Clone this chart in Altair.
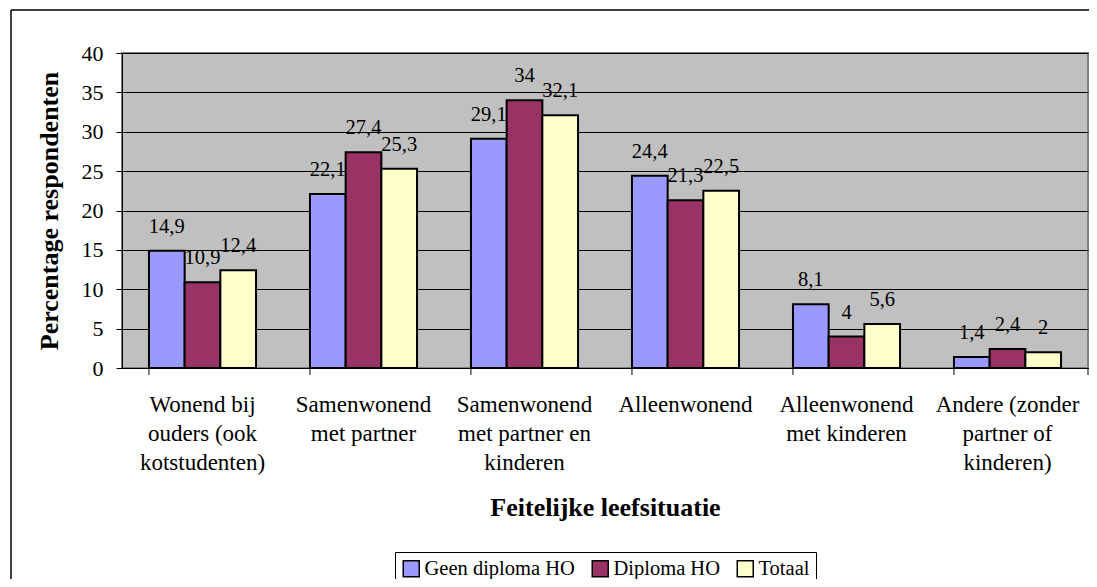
import altair as alt
import pandas as pd

categories = [
    "Wonend bij|ouders (ook|kotstudenten)",
    "Samenwonend|met partner",
    "Samenwonend|met partner en|kinderen",
    "Alleenwonend",
    "Alleenwonend|met kinderen",
    "Andere (zonder|partner of|kinderen)",
]
series = ["Geen diploma HO", "Diploma HO", "Totaal"]
geen_diploma = [14.9, 22.1, 29.1, 24.4, 8.1, 1.4]
diploma = [10.9, 27.4, 34, 21.3, 4, 2.4]
totaal = [12.4, 25.3, 32.1, 22.5, 5.6, 2]
colors = ["#9999FF", "#993366", "#FFFFCC"]
y_ticks = [0, 5, 10, 15, 20, 25, 30, 35, 40]

rows = []
for s, vals in zip(series, [geen_diploma, diploma, totaal]):
    for c, v in zip(categories, vals):
        rows.append({"cat": c, "series": s, "value": v,
                     "label": f"{v:g}".replace(".", ",")})
df = pd.DataFrame(rows)

W, H = 966, 315
FONT = "Liberation Serif"

x_enc = alt.X(
    "cat:N", sort=categories,
    scale=alt.Scale(paddingInner=0.335, paddingOuter=0.1675),
    axis=alt.Axis(
        title="Feitelijke leefsituatie", titleFont=FONT, titleFontSize=26,
        titleFontWeight="bold", titleColor="black",
        titleBaseline="alphabetic", titleY=147,
        labelExpr="split(datum.label, '|')", labelFont=FONT, labelFontSize=23,
        labelColor="black", labelLineHeight=29, labelPadding=25,
        labelAngle=0, ticks=False, domain=True, domainColor="black",
        domainWidth=1, grid=False,
    ),
)
xoff = alt.XOffset("series:N", sort=series,
                   scale=alt.Scale(paddingInner=0, paddingOuter=0))
y_enc = alt.Y(
    "value:Q", scale=alt.Scale(domain=[0, 40], nice=False),
    axis=alt.Axis(
        title="Percentage respondenten", titleFont=FONT, titleFontSize=26,
        titleFontWeight="bold", titleColor="black",
        titleBaseline="alphabetic", titleX=-65,
        values=y_ticks, labelFont=FONT, labelFontSize=22, labelColor="black",
        labelPadding=13, tickColor="black", tickSize=6, domainColor="black",
        gridColor="black", gridWidth=1, gridOpacity=1,
    ),
)

bars = alt.Chart(df).mark_bar(stroke="black", strokeWidth=2).encode(
    x=x_enc, xOffset=xoff, y=y_enc,
    color=alt.Color(
        "series:N", sort=series,
        scale=alt.Scale(domain=series, range=colors),
        legend=alt.Legend(
            title=None, orient="none", direction="horizontal",
            legendX=273, legendY=499, labelFont=FONT, labelFontSize=20.5,
            labelColor="black", symbolType="square", symbolSize=256,
            symbolStrokeColor="black", symbolStrokeWidth=1.5,
            symbolOpacity=1, labelOffset=3, columnPadding=14,
            strokeColor="black", padding=6, fillColor="white",
        ),
    ),
)

labels = alt.Chart(df).mark_text(
    baseline="alphabetic", dy=-18, font=FONT, fontSize=20.5, color="black"
).encode(x=x_enc, xOffset=xoff, y=y_enc, text="label:N")

tick_df = pd.DataFrame({"cat": categories})
xticks = alt.Chart(tick_df).mark_rule(color="black", strokeWidth=1).encode(
    x=alt.X("cat:N", sort=categories, bandPosition=0),
    y=alt.value(H), y2=alt.value(H + 7),
)
end_tick = alt.Chart(tick_df.head(1)).mark_rule(color="black", strokeWidth=1).encode(
    x=alt.value(W), y=alt.value(H), y2=alt.value(H + 7),
)

border_top = alt.Chart(tick_df.head(1)).mark_rule(color="black", strokeWidth=1.5).encode(
    x=alt.value(-111), x2=alt.value(990), y=alt.value(-43),
)
border_left = alt.Chart(tick_df.head(1)).mark_rule(color="black", strokeWidth=1.5).encode(
    x=alt.value(-111), y=alt.value(-43), y2=alt.value(560),
)

chart = alt.layer(
    bars, labels, xticks, end_tick, border_top, border_left
).properties(
    width=W, height=H,
    autosize=alt.AutoSizeParams(type="none"),
    padding={"left": 114, "top": 45, "right": 1, "bottom": 211},
).configure(
    background="white", font=FONT,
).configure_view(
    fill="#C0C0C0", stroke="#808080", strokeWidth=2,
)

chart.save("out.html", embed_options={"renderer": "svg", "actions": False})
